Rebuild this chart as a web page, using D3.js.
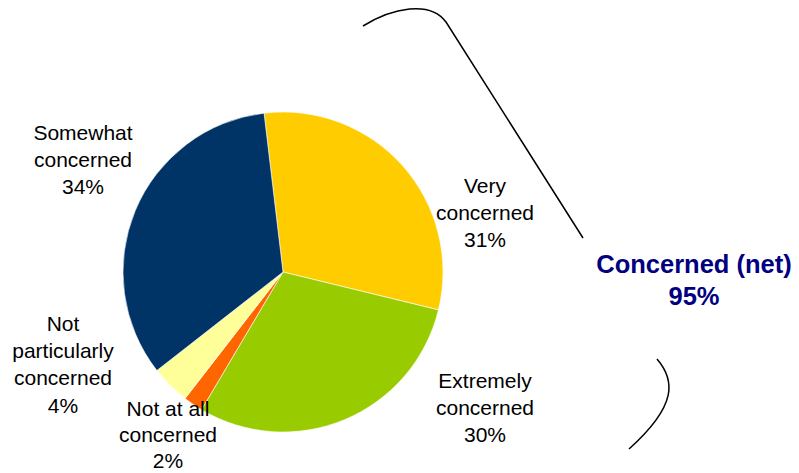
<!DOCTYPE html>
<html><head><meta charset="utf-8">
<script src="https://cdn.jsdelivr.net/npm/d3@7"></script>
<style>body{margin:0;background:#fff}svg{display:block}</style>
</head><body>
<svg id="chart" width="799" height="473"></svg>
<script>
const categories = ["Very concerned", "Extremely concerned", "Not at all concerned", "Not particularly concerned", "Somewhat concerned"];
const values = [31, 30, 2, 4, 34];
const colors = ["#FFCC00", "#99CC00", "#FF6600", "#FFFF99", "#003366"];
const labelLines = [["Very", "concerned", "31%"], ["Extremely", "concerned", "30%"], ["Not at all", "concerned", "2%"], ["Not", "particularly", "concerned", "4%"], ["Somewhat", "concerned", "34%"]];
const labelPos = [[485, 193], [485, 388], [168, 416], [63, 331], [83, 140]];
const netLabel = ["Concerned (net)", "95%"];

const svg = d3.select("#chart");
const cx = 283, cy = 272, r = 160;
const startA = -6.8 * Math.PI / 180;
const pie = d3.pie().sort(null).startAngle(startA).endAngle(startA + 2 * Math.PI);
const arc = d3.arc().innerRadius(0).outerRadius(r);
const arcs = pie(values);
const g = svg.append("g").attr("transform", `translate(${cx},${cy})`);
g.selectAll("path").data(arcs).join("path")
  .attr("d", arc).attr("fill", (d, i) => colors[i])
  .attr("stroke", "#fff").attr("stroke-width", 0.6);

labelLines.forEach((lines, i) => {
  const lineH = i === 2 ? 26 : 27.2;
  const t = svg.append("text").attr("text-anchor", "middle")
    .attr("font-family", "Liberation Sans, Arial, sans-serif").attr("font-size", 21).attr("fill", "#000");
  lines.forEach((s, j) => t.append("tspan").attr("x", labelPos[i][0]).attr("y", labelPos[i][1] + j * lineH).text(s));
});

const nt = svg.append("text").attr("text-anchor", "middle")
  .attr("font-family", "Liberation Sans, Arial, sans-serif").attr("font-size", 25.5)
  .attr("font-weight", "bold").attr("fill", "#000080");
netLabel.forEach((s, j) => nt.append("tspan").attr("x", 694).attr("y", 273 + j * 32).text(s));

const p1 = d3.path();
p1.moveTo(363, 26); p1.bezierCurveTo(392, 8, 430, 0, 446, 22); p1.lineTo(583, 238);
const p2 = d3.path();
p2.moveTo(657, 359); p2.bezierCurveTo(675, 380, 678, 405, 629, 449);
[p1, p2].forEach(p => svg.append("path").attr("d", p.toString())
  .attr("fill", "none").attr("stroke", "#000").attr("stroke-width", 1.5));
</script>
</body></html>
